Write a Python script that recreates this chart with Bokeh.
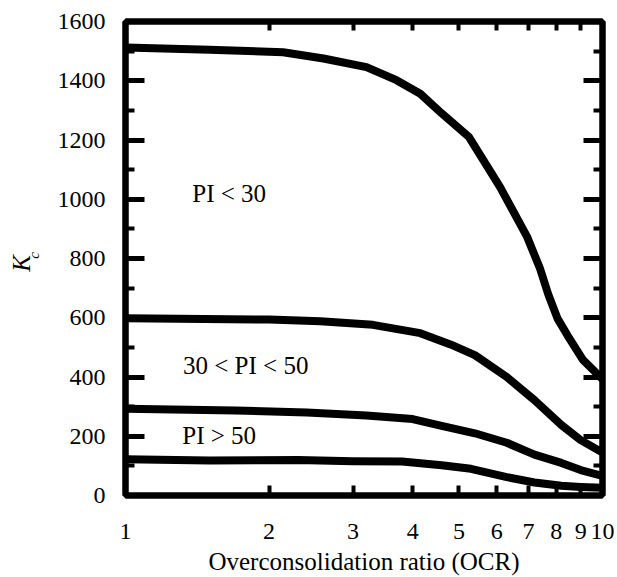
import numpy as np
from bokeh.plotting import figure
from bokeh.models import FixedTicker, LinearAxis, LogAxis, Range1d, Label, PrintfTickFormatter, CustomJSTickFormatter
from bokeh.embed import file_html
from bokeh.resources import INLINE

# ---- data ----
ocr_pi_lt30 = [1, 1.5, 2.14, 2.6, 3.2, 3.7, 4.15, 4.6, 5.25, 6.1, 6.95, 7.4, 7.7, 8.05, 8.45, 9.1, 10]
kc_pi_lt30 = [1512, 1505, 1496, 1475, 1446, 1402, 1356, 1290, 1210, 1041, 873, 765, 678, 597, 540, 458, 393]

ocr_pi_30_50 = [1, 2.0, 2.56, 3.3, 4.15, 4.8, 5.4, 6.3, 7.2, 8.2, 9.0, 10]
kc_pi_30_50 = [598, 594, 588, 576, 548, 510, 474, 400, 322, 238, 187, 145]

ocr_pi_gt50 = [1, 1.7, 2.4, 3.2, 4.0, 4.6, 5.4, 6.3, 7.2, 8.2, 9.0, 10]
kc_pi_gt50 = [293, 287, 280, 270, 258, 235, 210, 178, 138, 110, 86, 66]

ocr_bottom = [1, 1.5, 2.3, 3.0, 3.8, 4.6, 5.3, 6.3, 7.2, 8.2, 9.0, 10]
kc_bottom = [122, 118, 120, 116, 115, 102, 90, 62, 44, 33, 29, 26]

x_ticks = [1, 2, 3, 4, 5, 6, 7, 8, 9, 10]
y_ticks = [0, 200, 400, 600, 800, 1000, 1200, 1400, 1600]
y_minor = [100, 300, 500, 700, 900, 1100, 1300, 1500]

labels = ["PI < 30", "30 < PI < 50", "PI > 50"]
label_x = [1.38, 1.32, 1.315]
label_y = [1020, 440, 204]

FONT = "Liberation Serif"

p = figure(width=617, height=577, x_axis_type="log",
           x_range=Range1d(1, 10), y_range=Range1d(0, 1600),
           output_backend="svg", toolbar_location=None,
           min_border_left=125, min_border_right=15,
           min_border_top=21, min_border_bottom=82)

p.grid.visible = False
p.outline_line_color = "black"
p.outline_line_width = 6
p.background_fill_color = "white"
p.border_fill_color = "white"

for xs, ys in [(ocr_pi_lt30, kc_pi_lt30), (ocr_pi_30_50, kc_pi_30_50),
               (ocr_pi_gt50, kc_pi_gt50), (ocr_bottom, kc_bottom)]:
    p.line(xs, ys, line_width=8, line_color="black", line_join="round", line_cap="round")

# bottom axis
xa = p.xaxis[0]
xa.ticker = FixedTicker(ticks=x_ticks)
xa.formatter = PrintfTickFormatter(format="%d")
xa.major_tick_in = 10
xa.major_tick_out = 0
xa.major_tick_line_width = 4
xa.minor_tick_line_color = None
xa.axis_line_width = 6
xa.major_label_standoff = 28
xa.major_label_text_font = FONT
xa.major_label_text_font_size = "24px"
xa.major_label_text_color = "black"
xa.axis_label = "Overconsolidation ratio (OCR)"
xa.axis_label_text_font = FONT
xa.axis_label_text_font_size = "25px"
xa.axis_label_text_font_style = "normal"
xa.axis_label_text_color = "black"
xa.axis_label_standoff = 6

# left axis
ya = p.yaxis[0]
ya.ticker = FixedTicker(ticks=y_ticks, minor_ticks=y_minor)
ya.major_tick_in = 19
ya.major_tick_out = 0
ya.minor_tick_in = 9
ya.minor_tick_out = 0
ya.major_tick_line_width = 5
ya.minor_tick_line_width = 4
ya.axis_line_width = 6
ya.major_label_standoff = 20
ya.major_label_text_font = FONT
ya.major_label_text_font_size = "24px"
ya.major_label_text_color = "black"

blank = CustomJSTickFormatter(code="return ''")

# right axis
ra = LinearAxis(ticker=FixedTicker(ticks=y_ticks, minor_ticks=y_minor), formatter=blank)
ra.major_tick_in = 19
ra.major_tick_out = 0
ra.minor_tick_in = 9
ra.minor_tick_out = 0
ra.major_tick_line_width = 5
ra.minor_tick_line_width = 4
ra.axis_line_width = 6
ra.major_label_standoff = 0
ra.major_label_text_font_size = "1px"
p.add_layout(ra, "right")

# top axis
ta = LogAxis(ticker=FixedTicker(ticks=x_ticks), formatter=blank)
ta.major_tick_in = 9
ta.major_tick_out = 0
ta.major_tick_line_width = 4
ta.minor_tick_line_color = None
ta.axis_line_width = 6
ta.major_label_standoff = 0
ta.major_label_text_font_size = "1px"
p.add_layout(ta, "above")

for t, x, y in zip(labels, label_x, label_y):
    p.add_layout(Label(x=x, y=y, text=t, text_font=FONT, text_font_size="25px",
                       text_baseline="middle", text_align="left", text_color="black"))

# y-axis title K_c (italic K with subscript c), rotated, placed in the left side panel
p.add_layout(Label(x=-6, y=232, x_units="screen", y_units="screen", text="K",
                   text_font=FONT, text_font_style="italic", text_font_size="25px",
                   text_color="black",
                   angle=np.pi / 2, text_align="center", text_baseline="middle"), "left")
p.add_layout(Label(x=22, y=240, x_units="screen", y_units="screen", text="c",
                   text_font=FONT, text_font_style="italic", text_font_size="15px",
                   text_color="black",
                   angle=np.pi / 2, text_align="center", text_baseline="middle"), "left")

open("out.html", "w").write(file_html(p, INLINE))
